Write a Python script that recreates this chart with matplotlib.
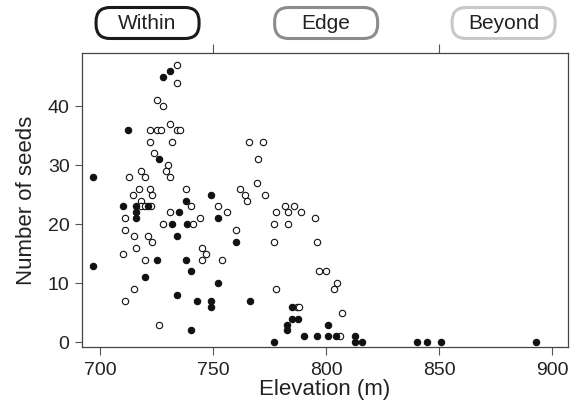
import matplotlib
matplotlib.use("Agg")
import matplotlib.pyplot as plt
from matplotlib.patches import FancyBboxPatch

plt.rcParams['font.family'] = ['Liberation Sans', 'DejaVu Sans']

# filled markers
solid_elev = [697, 697, 712.5, 728, 731, 726, 738, 749, 710, 716, 721, 716, 716,
              735, 752, 732, 738.5, 760, 734, 725, 738, 740, 720, 752, 734,
              743, 749, 749, 766.5, 740, 785, 785, 787.6, 782.7, 782.7, 801,
              790, 796, 801, 804.4, 777, 812.8, 812.8, 816, 840, 844.7, 851, 893]
solid_seeds = [28, 13, 36, 45, 46, 31, 24, 25, 23, 23, 23, 22, 21,
               22, 21, 20, 20, 17, 18, 14, 14, 12, 11, 10, 8,
               7, 7, 6, 7, 2, 6, 4, 4, 3, 2, 3,
               1, 1, 1, 1, 0, 1, 0, 0, 0, 0, 0, 0]

# open markers
hollow_elev = [734, 734, 725, 728, 722, 725, 727, 734, 735.5, 731,
               722, 732, 766, 772, 724, 730, 729, 731, 713, 718, 720,
               770, 769.5, 717, 714.5, 722, 723, 718, 738, 762, 764, 765, 773,
               718, 720, 722.5, 711, 731, 740, 752, 756, 744, 728, 741,
               711, 760, 715, 721, 723, 716, 710, 745, 747, 745, 754, 720,
               715, 711, 726, 782, 786, 778, 783, 789, 795, 777, 783,
               777, 796, 797, 800, 805, 803.5, 778, 787, 788, 807, 806]
hollow_seeds = [47, 44, 41, 40, 36, 36, 36, 36, 36, 37,
                34, 34, 34, 34, 32, 30, 29, 28, 28, 29, 28,
                31, 27, 26, 25, 26, 25, 24, 26, 26, 25, 24, 25,
                23, 23, 23, 21, 22, 23, 23, 22, 21, 20, 20,
                19, 19, 18, 18, 17, 16, 15, 16, 15, 14, 14, 14,
                9, 7, 3, 23, 23, 22, 22, 22, 21, 20, 20,
                17, 17, 12, 12, 10, 9, 9, 6, 6, 5, 1]

zone_names = ['Within', 'Edge', 'Beyond']
zone_bounds = [692, 750, 850, 907]
zone_colors = ['#1a1a1a', '#8c8c8c', '#c8c8c8']

fig = plt.figure(figsize=(5.73, 4.11), dpi=100)
ax = fig.add_axes([82 / 573, 1 - 347 / 411, 486 / 573, 294 / 411])

ax.scatter(hollow_elev, hollow_seeds, s=21, facecolors='white',
           edgecolors='#111111', linewidths=0.8, zorder=3)
ax.scatter(solid_elev, solid_seeds, s=21, facecolors='#111111',
           edgecolors='#111111', linewidths=0.8, zorder=4)

ax.set_xlim(zone_bounds[0], zone_bounds[-1])
ax.set_ylim(-0.8, 49)
ax.set_xticks([700, 750, 800, 850, 900])
ax.set_yticks([0, 10, 20, 30, 40])
for sp in ax.spines.values():
    sp.set_color('#444444')
    sp.set_linewidth(0.9)
ax.tick_params(axis='x', direction='out', length=6, width=0.8, color='#555555',
               labelsize=14, pad=5, labelcolor='#222222')
ax.tick_params(axis='y', direction='out', length=5, width=0.8, color='#555555',
               labelsize=14, pad=4, labelcolor='#222222')
ax.set_xlabel('Elevation (m)', fontsize=16, color='#222222', labelpad=0)
ax.set_ylabel('Number of seeds', fontsize=16, color='#222222', labelpad=8)

top = ax.secondary_xaxis('top')
top.set_xticks(zone_bounds[1:-1])
top.set_xticklabels([])
top.tick_params(direction='out', length=6.5, width=0.8, color='#555555')
top.spines['top'].set_visible(False)

# zone label boxes above the plot
bw, bh = 1.03, 0.31
ybox = 3.88
for i, name in enumerate(zone_names):
    cx = (zone_bounds[i] + zone_bounds[i + 1]) / 2
    px = ax.transData.transform((cx, 0))[0] / fig.dpi
    box = FancyBboxPatch((px - bw / 2, ybox - bh / 2), bw, bh,
                         boxstyle='round,pad=0,rounding_size=0.14',
                         transform=fig.dpi_scale_trans, facecolor='white',
                         edgecolor=zone_colors[i], linewidth=2.2, clip_on=False)
    fig.patches.append(box)
    fig.text(px, ybox, name, transform=fig.dpi_scale_trans, ha='center',
             va='center', fontsize=15, color='#222222')

fig.savefig('out.png', dpi=100)
